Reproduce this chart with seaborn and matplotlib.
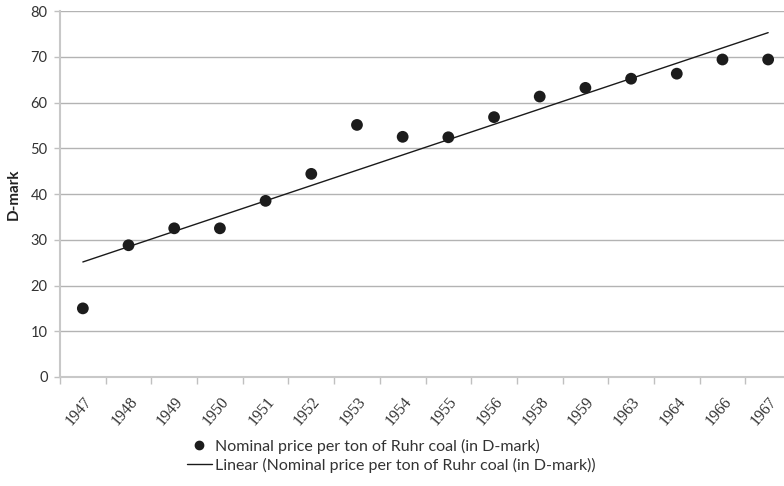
import numpy as np
import pandas as pd
import matplotlib
matplotlib.use("Agg")
import matplotlib.pyplot as plt
import seaborn as sns
from matplotlib.lines import Line2D

# Ruhr coal price series
years = ["1947", "1948", "1949", "1950", "1951", "1952", "1953", "1954",
         "1955", "1956", "1958", "1959", "1963", "1964", "1966", "1967"]
price = [15.0, 28.8, 32.5, 32.5, 38.5, 44.4, 55.1, 52.5,
         52.4, 56.8, 61.3, 63.2, 65.2, 66.3, 69.4, 69.4]
y_ticks = [0, 10, 20, 30, 40, 50, 60, 70, 80]

series_name = "Nominal price per ton of Ruhr coal (in D-mark)"
trend_name = "Linear (Nominal price per ton of Ruhr coal (in D-mark))"

df = pd.DataFrame({"pos": np.arange(len(years)), "year": years, "price": price})

sns.set_theme(style="white")
plt.rcParams["font.family"] = ["Lato", "DejaVu Sans"]

fig = plt.figure(figsize=(7.84, 4.86), dpi=100)
ax = fig.add_axes([60 / 784, 1 - 377 / 486, 731 / 784, 366 / 486])

# linear trendline across category positions
sns.regplot(data=df, x="pos", y="price", ax=ax, scatter=False, ci=None,
            truncate=True, line_kws=dict(color="#1a1a1a", lw=1.0))
# data points
sns.scatterplot(data=df, x="pos", y="price", ax=ax, s=72, color="#1c1c1c",
                edgecolor="none", zorder=5)

ax.set_xlim(-0.5, len(years) - 0.5)
ax.set_ylim(0, 80)
ax.set_yticks(y_ticks)
ax.yaxis.grid(True, color="#b3b3b3", lw=1.0)
ax.set_axisbelow(True)

ax.set_xticks(np.arange(len(years)))
ax.set_xticklabels(years, rotation=50, ha="right", rotation_mode="anchor",
                   family=["Liberation Serif", "DejaVu Serif"], fontsize=11.5,
                   color="#333333")
ax.set_xticks(np.arange(len(years) + 1) - 0.5, minor=True)
ax.tick_params(axis="x", which="major", length=0, pad=12)
ax.tick_params(axis="x", which="minor", length=5, width=1, color="#c0c0c0",
               direction="out", bottom=True)
ax.tick_params(axis="y", length=4, width=1, color="#c0c0c0", direction="out",
               left=True, labelsize=10.5, labelcolor="#333333", pad=5)

for s in ["top", "right"]:
    ax.spines[s].set_visible(False)
for s in ["left", "bottom"]:
    ax.spines[s].set_color("#c8c8c8")
    ax.spines[s].set_linewidth(1.5)

ax.set_xlabel("")
ax.set_ylabel("D-mark", fontsize=11, fontweight="bold", color="#222222",
              labelpad=7)

handles = [
    Line2D([], [], ls="none", marker="o", color="#1c1c1c", markersize=6),
    Line2D([], [], color="#1a1a1a", lw=1.0),
]
fig.legend(handles, [series_name, trend_name], loc="upper left",
           bbox_to_anchor=(179 / 784, 1 - 431 / 486), frameon=False,
           fontsize=11.5, handlelength=1.55, handletextpad=0.2,
           labelspacing=0.22, borderpad=0, labelcolor="#333333")

fig.savefig("out.png", dpi=100)
